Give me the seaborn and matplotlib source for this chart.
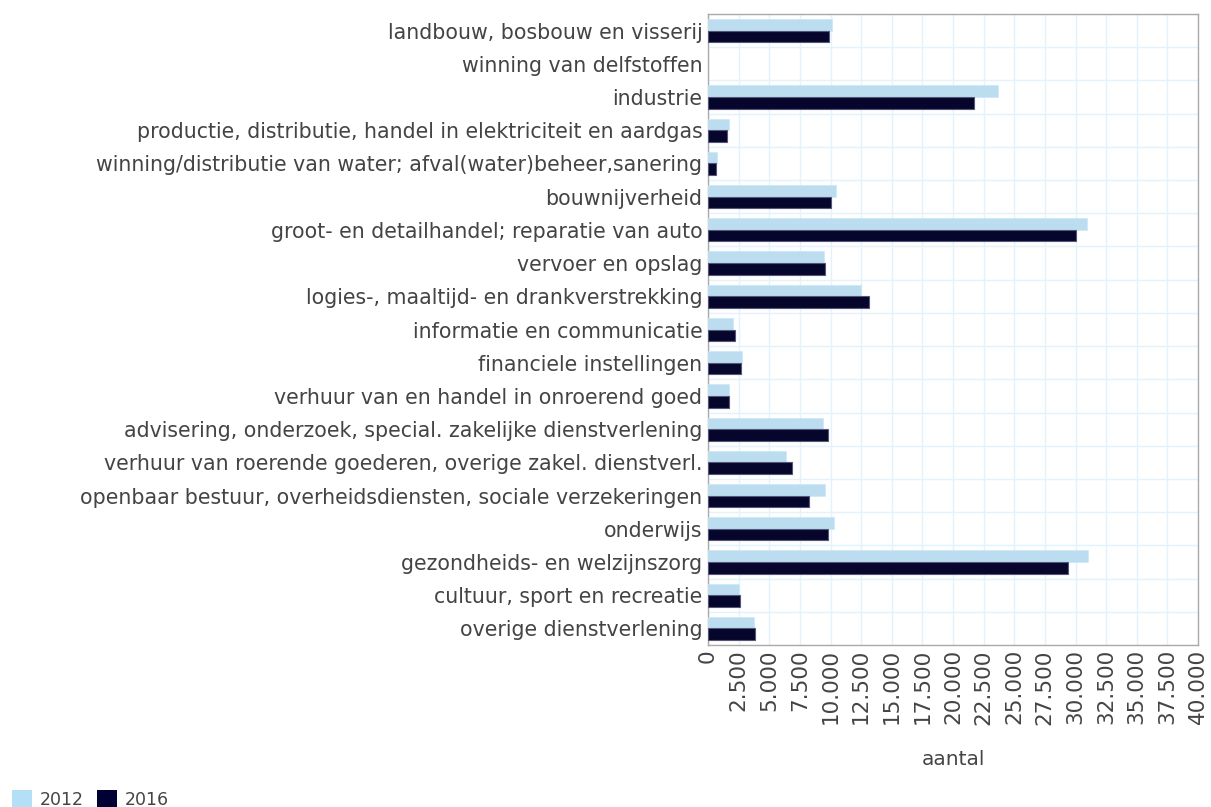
import numpy as np
import pandas as pd
import seaborn as sns
import matplotlib.pyplot as plt
from matplotlib.ticker import FuncFormatter, MultipleLocator, FixedLocator
from matplotlib.patches import Patch

sectors = [
    'landbouw, bosbouw en visserij',
    'winning van delfstoffen',
    'industrie',
    'productie, distributie, handel in elektriciteit en aardgas',
    'winning/distributie van water; afval(water)beheer,sanering',
    'bouwnijverheid',
    'groot- en detailhandel; reparatie van auto',
    'vervoer en opslag',
    'logies-, maaltijd- en drankverstrekking',
    'informatie en communicatie',
    'financiele instellingen',
    'verhuur van en handel in onroerend goed',
    'advisering, onderzoek, special. zakelijke dienstverlening',
    'verhuur van roerende goederen, overige zakel. dienstverl.',
    'openbaar bestuur, overheidsdiensten, sociale verzekeringen',
    'onderwijs',
    'gezondheids- en welzijnszorg',
    'cultuur, sport en recreatie',
    'overige dienstverlening',
]
years = ['2012', '2016']
values_2012 = [10100, 0, 23700, 1690, 710, 10420, 30910, 9470, 12520, 2040,
               2800, 1740, 9390, 6340, 9520, 10260, 31050, 2530, 3730]
values_2016 = [9900, 0, 21720, 1550, 680, 10010, 30040, 9520, 13170, 2180,
               2670, 1740, 9820, 6890, 8270, 9770, 29360, 2610, 3870]
colors = ['#b3e0f7', '#000033']

df = pd.DataFrame({
    'sector': sectors * 2,
    'jaar': [years[0]] * len(sectors) + [years[1]] * len(sectors),
    'aantal': values_2012 + values_2016,
})

sns.set_style('white')
plt.rcParams['font.family'] = ['DejaVu Sans']
text_color = '#444444'

fig = plt.figure(figsize=(12.11, 8.07), dpi=100)
ax = fig.add_axes([708 / 1211, 1 - 645 / 807, 490 / 1211, 631 / 807])

sns.barplot(data=df, y='sector', x='aantal', hue='jaar', orient='h',
            palette=colors, width=0.7, legend=False, ax=ax, zorder=3)

# light bars without dark outline, dark bars with a soft grey-purple edge
edge_styles = [('#c8e9f9', 0.5), ('#555577', 0.8)]
for cont, (ec, lw) in zip(ax.containers, edge_styles):
    for bar in cont:
        bar.set_edgecolor(ec)
        bar.set_linewidth(lw if bar.get_width() > 0 else 0)

ax.set_xlim(0, 40000)
ax.set_ylim(len(sectors) - 0.5, -0.5)
ax.xaxis.set_major_locator(MultipleLocator(2500))
ax.xaxis.set_major_formatter(FuncFormatter(lambda v, p: f'{int(v):,}'.replace(',', '.')))
ax.yaxis.set_minor_locator(FixedLocator(np.arange(-0.5, len(sectors), 1)))
ax.grid(True, axis='x', which='major', color='#e4f3fb', linewidth=1, zorder=0)
ax.grid(True, axis='y', which='minor', color='#e4f3fb', linewidth=1, zorder=0)
ax.set_axisbelow(True)

ax.tick_params(axis='x', labelrotation=90, labelsize=15.5, colors=text_color, length=0, pad=3)
ax.tick_params(axis='y', labelsize=14.8, colors=text_color, length=0, pad=4, which='both')
for s in ax.spines.values():
    s.set_color('#aaaaaa')
    s.set_linewidth(1)

ax.set_ylabel('')
ax.set_xlabel('aantal', fontsize=14.5, color=text_color, labelpad=18)

handles = [Patch(facecolor=c, edgecolor='none') for c in colors]
fig.legend(handles, years, loc='lower left', bbox_to_anchor=(-0.003, -0.022), ncol=2,
           frameon=False, fontsize=12.5, handlelength=1.15, handleheight=1.3,
           handletextpad=0.45, columnspacing=0.75, labelcolor=text_color)

fig.savefig('out.png', dpi=100)
